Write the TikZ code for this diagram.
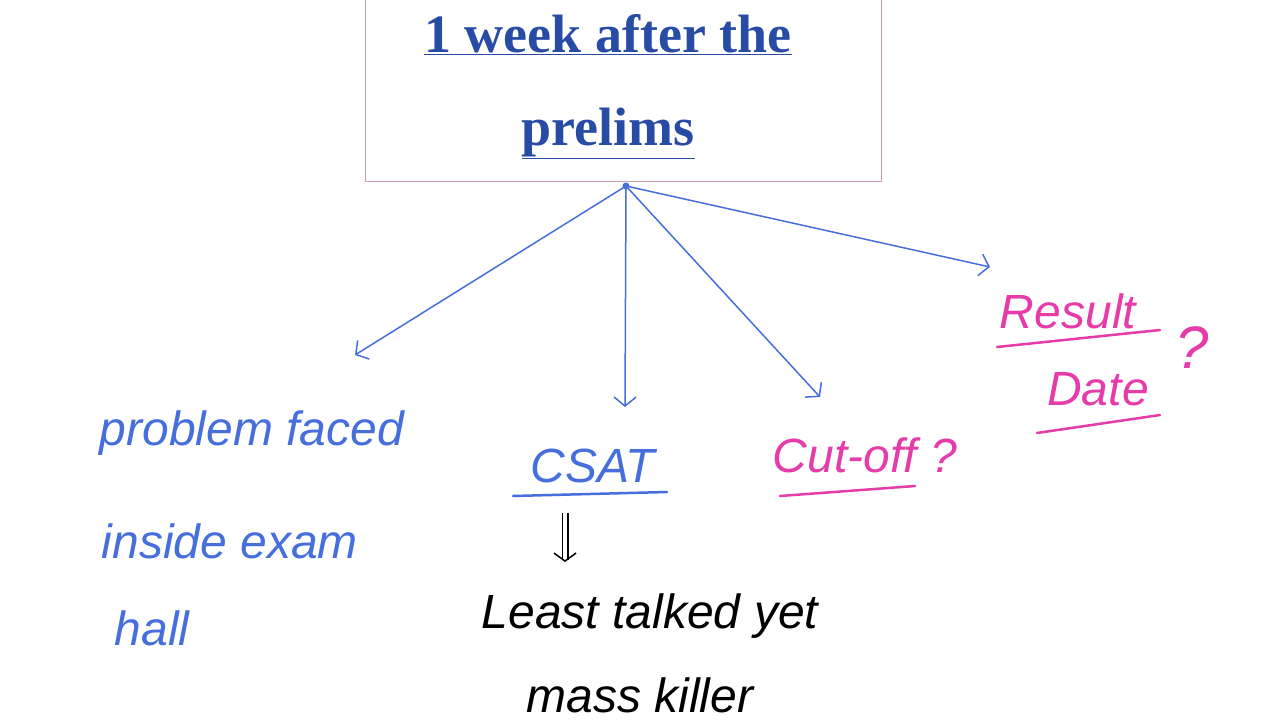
\documentclass[tikz,border=0pt]{standalone}
\usepackage{fontspec}
\setmainfont{Liberation Serif}
\newfontfamily\hand{Liberation Sans}
\usetikzlibrary{arrows.meta}
\definecolor{tblue}{RGB}{40,75,165}
\definecolor{pblue}{RGB}{70,110,220}
\definecolor{pink}{RGB}{230,60,170}
\definecolor{boxc}{RGB}{200,160,170}
\begin{document}
\begin{tikzpicture}[x=1pt,y=-1pt,
  conn/.style={draw=pblue,line width=1.5pt,-{Straight Barb[length=9pt,width=22pt,line width=1.5pt]}},
  hf/.style={font=\hand\itshape\fontsize{48}{54}\selectfont,anchor=base},
  bt/.style={hf,text=pblue},
  pt/.style={hf,text=pink},
  kt/.style={hf,text=black},
  ul/.style={line width=2.5pt,line cap=round}]
\useasboundingbox (0,0) rectangle (1280,720);
\node[draw=boxc,line width=1pt,minimum width=516pt,minimum height=200pt,inner sep=0] (box) at (623,81) {};
\node[text=tblue,font=\bfseries\fontsize{54}{60}\selectfont,anchor=base] (t1) at (608,52) {\underline{1 week after the}};
\node[text=tblue,font=\bfseries\fontsize{54}{60}\selectfont,anchor=base] (t2) at (608,145) {\underline{prelims}};
\coordinate (hub) at (626,186);
\fill[pblue] (hub) circle (3.5pt);
\coordinate (a1) at (355,355);
\coordinate (a2) at (625,407);
\coordinate (a3) at (820,397);
\coordinate (a4) at (990,267);
\draw[conn] (hub) -- (a1);
\draw[conn] (hub) -- (a2);
\draw[conn] (hub) -- (a3);
\draw[conn] (hub) -- (a4);
\node[bt] (p1) at (252,445) {problem faced};
\node[bt] (p2) at (230,558) {inside exam};
\node[bt] (p3) at (152,645) {hall};
\node[bt] (cs) at (593,482) {CSAT};
\draw[pblue,ul] (513,496) -- (667,492);
\coordinate (d1) at (565,513);
\coordinate (d2) at (565,562);
\draw[line width=1.5pt,double,double distance=4pt,-{Straight Barb[length=8pt,width=22pt]}] (d1) -- (d2);
\node[kt] (l1) at (650,628) {Least talked yet};
\node[kt] (l2) at (640,712) {mass killer};
\node[pt] (co) at (865,472) {Cut-off ?};
\draw[pink,ul] (780,496) -- (915,486);
\node[pt] (r1) at (1068,328) {Result};
\draw[pink,ul] (997,347) -- (1160,330);
\node[pt] (r2) at (1098,405) {Date};
\draw[pink,ul] (1037,433) -- (1160,415);
\node[pt,font=\hand\itshape\fontsize{60}{66}\selectfont] (q) at (1192,368) {?};
\end{tikzpicture}
\end{document}
